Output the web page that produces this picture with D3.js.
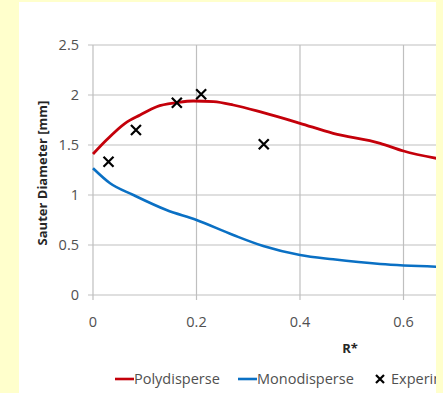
<!DOCTYPE html>
<html>
<head>
<meta charset="utf-8">
<script src="https://cdn.jsdelivr.net/npm/d3@7"></script>
<style>
  html, body { margin: 0; padding: 0; background: #ffffcc; }
  svg { display: block; }
</style>
</head>
<body>
<div id="chart"></div>
<script>
// values
const polyX = [0, 0.026, 0.062, 0.091, 0.123, 0.162, 0.194, 0.233, 0.271, 0.329, 0.40, 0.464, 0.555, 0.60, 0.67];
const polyY = [1.41, 1.55, 1.717, 1.80, 1.883, 1.923, 1.94, 1.933, 1.90, 1.823, 1.717, 1.617, 1.517, 1.44, 1.36];
const monoX = [0, 0.033, 0.078, 0.142, 0.20, 0.271, 0.329, 0.40, 0.464, 0.555, 0.67];
const monoY = [1.267, 1.117, 1.0, 0.85, 0.75, 0.60, 0.49, 0.40, 0.357, 0.31, 0.282];
const expX = [0.03, 0.083, 0.162, 0.209, 0.330];
const expY = [1.333, 1.65, 1.923, 2.007, 1.507];
const xTicks = [0, 0.2, 0.4, 0.6];
const yTicks = [0, 0.5, 1, 1.5, 2, 2.5];
const legendNames = ['Polydisperse', 'Monodisperse', 'Experimental'];

const W = 443, H = 393;
const font = '"Open Sans", sans-serif';
const red = '#c4000a', blue = '#0a70c4', grid = '#bfbfbf', txt = '#505050';

const svg = d3.select('#chart').append('svg')
  .attr('width', W).attr('height', H)
  .attr('font-family', font);

// white panel (cut at the right by the yellow page)
const panel = { x0: 19, x1: 436, y0: 2 };
svg.append('rect')
  .attr('x', panel.x0).attr('y', panel.y0)
  .attr('width', panel.x1 - panel.x0).attr('height', H - panel.y0)
  .attr('fill', '#ffffff');

svg.append('defs').append('clipPath').attr('id', 'clip')
  .append('rect')
  .attr('x', panel.x0).attr('y', panel.y0)
  .attr('width', panel.x1 - panel.x0).attr('height', H - panel.y0);

const x = d3.scaleLinear().domain([0, 0.8]).range([93, 93 + 517.5 * 0.8]);
const y = d3.scaleLinear().domain([0, 2.5]).range([295, 45]);

const g = svg.append('g').attr('clip-path', 'url(#clip)');

// gridlines
g.append('g').selectAll('line').data(yTicks).join('line')
  .attr('x1', 88).attr('x2', x(0.8))
  .attr('y1', d => y(d)).attr('y2', d => y(d))
  .attr('stroke', grid).attr('stroke-width', 1.2);
g.append('g').selectAll('line').data(xTicks).join('line')
  .attr('x1', d => x(d)).attr('x2', d => x(d))
  .attr('y1', y(2.5)).attr('y2', y(0) + 5)
  .attr('stroke', grid).attr('stroke-width', 1.2);

// tick labels
svg.append('g').selectAll('text').data(yTicks).join('text')
  .attr('x', 79).attr('y', d => y(d)).attr('dy', '0.35em')
  .attr('text-anchor', 'end').attr('font-size', 14.5).attr('fill', txt)
  .text(d => d);
svg.append('g').selectAll('text').data(xTicks).join('text')
  .attr('x', d => x(d)).attr('y', 327)
  .attr('text-anchor', 'middle').attr('font-size', 14.5).attr('fill', txt)
  .text(d => d);

// axis titles
svg.append('text')
  .attr('x', 350).attr('y', 353)
  .attr('text-anchor', 'middle').attr('font-size', 13).attr('font-weight', 'bold')
  .attr('fill', '#262626').text('R*');
svg.append('text')
  .attr('transform', `translate(47,${(y(0) + y(2.5)) / 2 + 3}) rotate(-90)`)
  .attr('text-anchor', 'middle').attr('font-size', 13).attr('font-weight', 'bold')
  .attr('fill', '#262626').text('Sauter Diameter [mm]');

// lines
const line = d3.line().x(d => x(d[0])).y(d => y(d[1])).curve(d3.curveMonotoneX);
g.append('path').datum(d3.zip(monoX, monoY))
  .attr('d', line).attr('fill', 'none')
  .attr('stroke', blue).attr('stroke-width', 2.6);
g.append('path').datum(d3.zip(polyX, polyY))
  .attr('d', line).attr('fill', 'none')
  .attr('stroke', red).attr('stroke-width', 2.8);

// experimental crosses
const cross = 5;
g.append('g').selectAll('path').data(d3.zip(expX, expY)).join('path')
  .attr('d', d => {
    const cx = x(d[0]), cy = y(d[1]);
    return `M${cx - cross},${cy - cross}L${cx + cross},${cy + cross}M${cx - cross},${cy + cross}L${cx + cross},${cy - cross}`;
  })
  .attr('stroke', '#000').attr('stroke-width', 2.2).attr('fill', 'none');

// legend (cut at the panel edge as in the source image)
const leg = g.append('g').attr('transform', 'translate(0,379)');
const legItems = [
  { name: legendNames[0], kind: 'line', color: red, x: 115 },
  { name: legendNames[1], kind: 'line', color: blue, x: 238 },
  { name: legendNames[2], kind: 'cross', color: '#000', x: 375 }
];
legItems.forEach(it => {
  if (it.kind === 'line') {
    leg.append('line').attr('x1', it.x).attr('x2', it.x + 19)
      .attr('y1', 0).attr('y2', 0)
      .attr('stroke', it.color).attr('stroke-width', 2.6);
    leg.append('text').attr('x', it.x + 19).attr('y', 0).attr('dy', '0.35em')
      .attr('font-size', 14.5).attr('fill', txt).text(it.name);
  } else {
    const c = 4;
    leg.append('path')
      .attr('d', `M${it.x + 5 - c},${-c}L${it.x + 5 + c},${c}M${it.x + 5 - c},${c}L${it.x + 5 + c},${-c}`)
      .attr('stroke', '#000').attr('stroke-width', 2.2);
    leg.append('text').attr('x', it.x + 16).attr('y', 0).attr('dy', '0.35em')
      .attr('font-size', 14.5).attr('fill', txt).text(it.name);
  }
});
</script>
</body>
</html>
